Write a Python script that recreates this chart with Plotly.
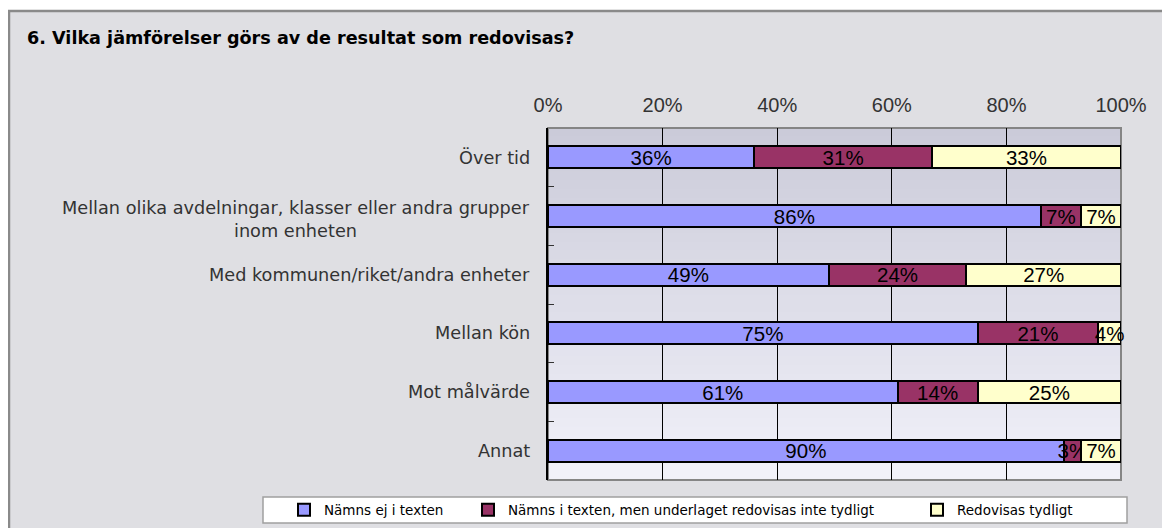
import plotly.graph_objects as go

categories = [
    "Över tid",
    "Mellan olika avdelningar, klasser eller andra grupper<br>inom enheten",
    "Med kommunen/riket/andra enheter",
    "Mellan kön",
    "Mot målvärde",
    "Annat",
]
series_names = [
    "Nämns ej i texten",
    "Nämns i texten, men underlaget redovisas inte tydligt",
    "Redovisas tydligt",
]
nams_ej = [36, 86, 49, 75, 61, 90]
nams_otydligt = [31, 7, 24, 21, 14, 3]
redovisas = [33, 7, 27, 4, 25, 7]
x_ticks = [0, 20, 40, 60, 80, 100]
x_tick_labels = ["0%", "20%", "40%", "60%", "80%", "100%"]
title_text = "6. Vilka jämförelser görs av de resultat som redovisas?"

colors = ["#9999FF", "#993366", "#FFFFCC"]
OFF = 8  # page body margin
W, H = 1170 - OFF, 528 - OFF
L = 548 - OFF
T = 128 - OFF
R = W - (1121 - OFF)
B = H - (480 - OFF)
PW, PH = W - L - R, H - T - B


def px(xp):
    return (xp - OFF - L) / PW


def py(yp):
    return (H - B - (yp - OFF)) / PH


def cx(xp):
    return (xp - OFF) / W


def cy(yp):
    return 1 - (yp - OFF) / H


fig = go.Figure()
legends = ["legend", "legend2", "legend3"]
for name, vals, col, lg in zip(series_names, [nams_ej, nams_otydligt, redovisas], colors, legends):
    fig.add_trace(go.Bar(
        y=categories, x=vals, name=name, orientation="h",
        marker=dict(color=col, line=dict(color="black", width=2)),
        width=0.375,
        text=[f"{v}%" for v in vals], texttemplate="%{text}",
        textposition="inside", insidetextanchor="middle",
        textangle=0, constraintext="none",
        textfont=dict(family="Liberation Sans, Arial", size=20.5, color="black"),
        cliponaxis=False, legend=lg, hoverinfo="x+name",
    ))

shapes = []
# outer frame
shapes.append(dict(type="rect", xref="paper", yref="paper", x0=px(9), x1=px(1190), y0=py(545), y1=py(11),
                   fillcolor="#dfdfe3", line=dict(color="#8a8a8a", width=2.5), layer="below"))
# legend box
shapes.append(dict(type="rect", xref="paper", yref="paper", x0=px(263), x1=px(1127), y0=py(523), y1=py(497),
                   fillcolor="white", line=dict(color="#a0a0a0", width=1.5), layer="below"))
# gradient plot background
n = 40
c0 = (203, 203, 217)
c1 = (241, 241, 249)
for i in range(n):
    t = i / (n - 1)
    c = tuple(round(c0[k] + (c1[k] - c0[k]) * t) for k in range(3))
    shapes.append(dict(type="rect", xref="x domain", yref="y domain", x0=0, x1=1,
                       y0=1 - (i + 1) / n, y1=1 - i / n + 0.002,
                       fillcolor="rgb(%d,%d,%d)" % c, line=dict(width=0), layer="below"))
# plot border
shapes.append(dict(type="rect", xref="paper", yref="paper", x0=0, x1=1, y0=0, y1=1,
                   line=dict(color="#858585", width=2), layer="below"))

annotations = []
for cat in categories:
    annotations.append(dict(x=0, xref="paper", y=cat, yref="y", text=cat, showarrow=False,
                            xanchor="right", xshift=-16, yshift=-3 if "<br>" in cat else 0,
                            align="center",
                            font=dict(family="DejaVu Sans, Verdana", size=17.7, color="#333333")))

leg_common = dict(orientation="h", yanchor="middle", y=cy(510), yref="container",
                  xanchor="left", xref="container",
                  bgcolor="rgba(0,0,0,0)", borderwidth=0,
                  font=dict(family="DejaVu Sans, Verdana", size=13.5, color="black"))

fig.update_layout(
    width=W, height=H,
    margin=dict(l=L, r=R, t=T, b=B, autoexpand=False),
    paper_bgcolor="white",
    plot_bgcolor="rgba(0,0,0,0)",
    barmode="stack",
    title=dict(text="<b>" + title_text + "</b>", xref="container", x=(27 - OFF) / W, xanchor="left",
               yref="container", y=1 - (38 - OFF) / H, yanchor="middle",
               font=dict(family="DejaVu Sans, Verdana", size=17.6, color="black")),
    xaxis=dict(range=[0, 100], side="top", tickvals=x_ticks, ticktext=x_tick_labels,
               showgrid=True, gridcolor="black", gridwidth=1, zeroline=False,
               ticks="", ticklabelstandoff=11, showline=False,
               tickfont=dict(family="Liberation Sans, Arial", size=20, color="#333333")),
    yaxis=dict(autorange="reversed", showticklabels=False, showgrid=False, zeroline=False,
               ticks="inside", tickson="boundaries", ticklen=6, tickcolor="#333333", tickwidth=1,
               showline=True, linecolor="black", linewidth=2),
    uniformtext=dict(mode="show", minsize=20.5),
    shapes=shapes,
    annotations=annotations,
    legend=dict(x=cx(284), **leg_common),
    legend2=dict(x=cx(468), **leg_common),
    legend3=dict(x=cx(917), **leg_common),
    showlegend=True,
)

fig.write_html("out.html")
